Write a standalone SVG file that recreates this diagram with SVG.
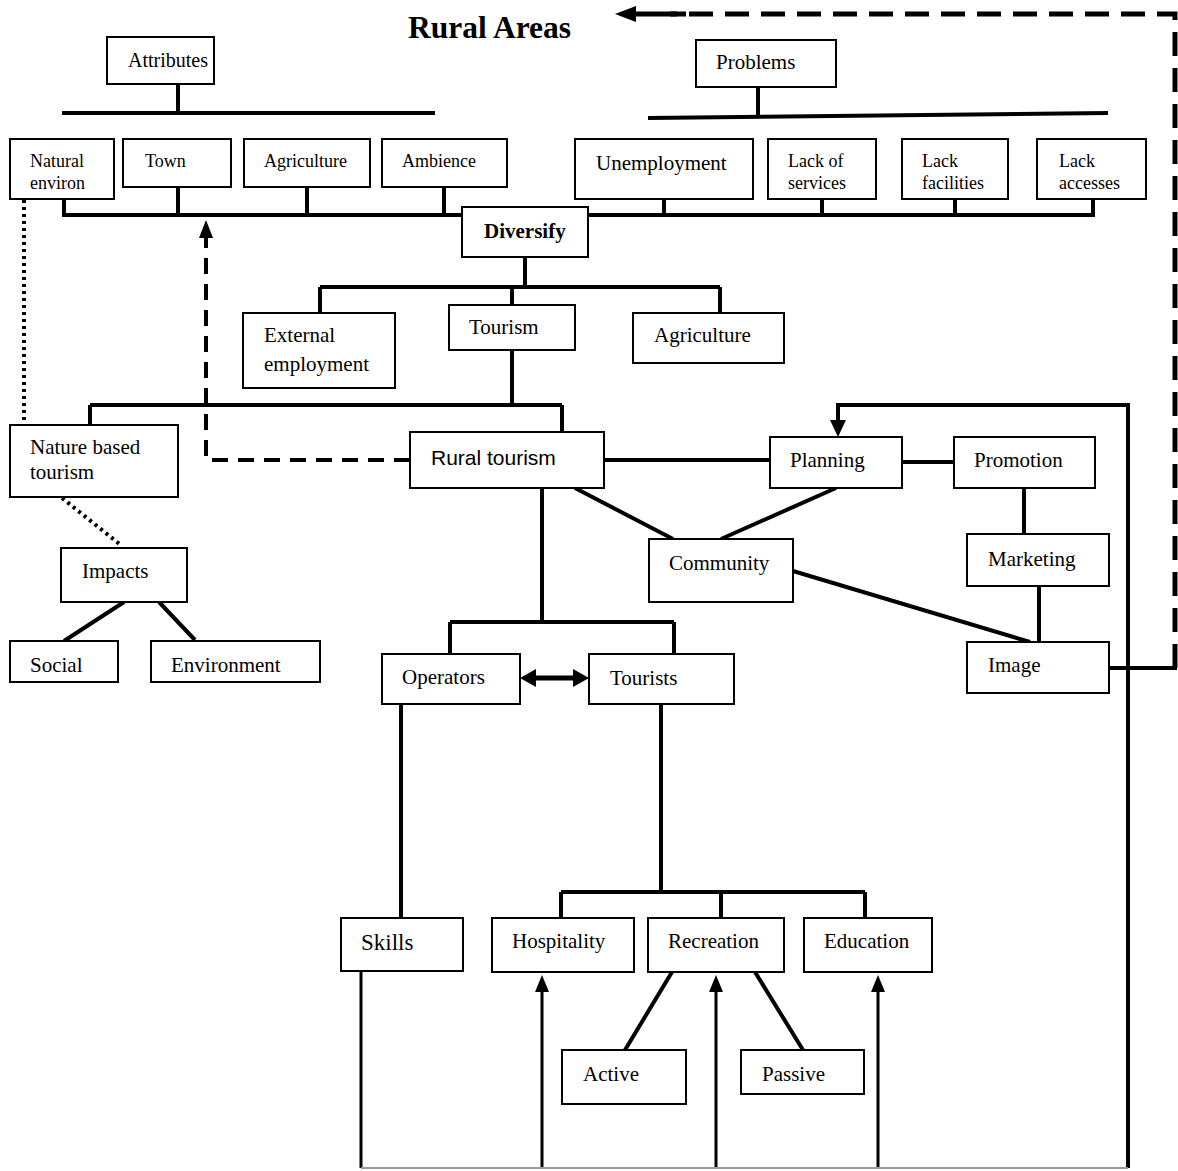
<svg xmlns="http://www.w3.org/2000/svg" width="1178" height="1171" viewBox="0 0 1178 1171">
<style>
.box{fill:#fff;stroke:#000;stroke-width:2}
.t{font-family:"Liberation Serif","Times New Roman",serif;font-size:21px;fill:#000}
.s{font-size:18px}
.b{font-weight:bold}
.sans{font-family:"Liberation Sans",Arial,sans-serif}
.ln{fill:none;stroke:#000;stroke-width:4}
.dash{fill:none;stroke:#000;stroke-width:4;stroke-dasharray:16 10}
.dash2{fill:none;stroke:#000;stroke-width:5;stroke-dasharray:24 12}
.dot{fill:none;stroke:#000;stroke-width:4;stroke-dasharray:3 4}
.thin{fill:none;stroke:#999;stroke-width:2}
.ah{fill:#000}
</style>
<rect width="1178" height="1171" fill="#fff"/>
<g id="connectors">
  <path class="ln" d="M178 84V113M62 113H435"/>
  <path class="ln" d="M758 87V116M648 118L1108 113"/>
  <path class="ln" d="M62 215H1095M64 199V215M178 187V215M307 187V215M444 187V215M664 199V215M822 199V215M955 199V215M1093 199V215"/>
  <path class="ln" d="M525 257V287M320 287H720M320 287V313M512 287V305M720 287V313"/>
  <path class="ln" d="M512 350V405M90 405H562M90 405V425M562 405V432"/>
  <path class="ln" d="M604 460H770M902 462H953M1024 488V535M1039 586V642"/>
  <path class="ln" d="M575 488L673 539M836 488L721 539M793 571L1030 642"/>
  <path class="ln" d="M1128 1168V405H838V422"/>
  <polygon class="ah" points="830,420 846,420 838,437"/>
  <path class="ln" d="M1109 668H1177"/>
  <path class="dash2" d="M1175 668V14H670"/>
  <path class="ln" d="M686 14H632" style="stroke-width:5"/>
  <polygon class="ah" points="636,6 636,22 615,14"/>
  <path class="dash" d="M410 460H206V238"/>
  <polygon class="ah" points="199,238 213,238 206,220"/>
  <path class="dot" d="M24 200V420"/>
  <path class="dot" d="M62 498L122 546"/>
  <path class="ln" d="M124 602L64 641M159 602L195 640"/>
  <path class="ln" d="M542 488V622M450 622H674M450 622V654M674 622V654"/>
  <path class="ln" d="M534 678H576" style="stroke-width:5"/>
  <polygon class="ah" points="520,678 536,669 536,687"/>
  <polygon class="ah" points="589,678 573,669 573,687"/>
  <path class="ln" d="M401 704V918M661 704V892M561 892H865M561 892V918M721 892V918M865 892V918"/>
  <path class="ln" d="M672 972L625 1050M755 972L803 1050"/>
  <path class="ln" d="M361 972V1168" style="stroke-width:3"/>
  <path class="ln" d="M542 1168V990M716 1168V990M878 1168V990" style="stroke-width:3"/>
  <polygon class="ah" points="535,992 549,992 542,975"/>
  <polygon class="ah" points="709,992 723,992 716,975"/>
  <polygon class="ah" points="871,992 885,992 878,975"/>
  <path class="thin" d="M361 1168H1128"/>
</g>
<text class="t b" x="408" y="38" style="font-size:31.5px">Rural Areas</text>
<g id="attributes"><rect class="box" x="107" y="37" width="107" height="47"/><text class="t" x="128" y="67" style="font-size:20px">Attributes</text></g>
<g id="problems"><rect class="box" x="696" y="40" width="140" height="47"/><text class="t" x="716" y="69">Problems</text></g>
<g id="natural"><rect class="box" x="10" y="139" width="104" height="60"/><text class="t s" x="30" y="167">Natural</text><text class="t s" x="30" y="189">environ</text></g>
<g id="town"><rect class="box" x="123" y="139" width="108" height="48"/><text class="t s" x="145" y="167">Town</text></g>
<g id="agriculture1"><rect class="box" x="244" y="139" width="126" height="48"/><text class="t s" x="264" y="167">Agriculture</text></g>
<g id="ambience"><rect class="box" x="382" y="139" width="125" height="48"/><text class="t s" x="402" y="167">Ambience</text></g>
<g id="unemployment"><rect class="box" x="575" y="139" width="178" height="60"/><text class="t" x="596" y="170">Unemployment</text></g>
<g id="lackservices"><rect class="box" x="768" y="139" width="108" height="60"/><text class="t s" x="788" y="167">Lack of</text><text class="t s" x="788" y="189">services</text></g>
<g id="lackfacilities"><rect class="box" x="902" y="139" width="106" height="60"/><text class="t s" x="922" y="167">Lack</text><text class="t s" x="922" y="189">facilities</text></g>
<g id="lackaccesses"><rect class="box" x="1037" y="139" width="109" height="60"/><text class="t s" x="1059" y="167">Lack</text><text class="t s" x="1059" y="189">accesses</text></g>
<g id="diversify"><rect class="box" x="462" y="207" width="126" height="50"/><text class="t b" x="484" y="238">Diversify</text></g>
<g id="external"><rect class="box" x="243" y="313" width="152" height="75"/><text class="t" x="264" y="342">External</text><text class="t" x="264" y="371">employment</text></g>
<g id="tourism"><rect class="box" x="449" y="305" width="126" height="45"/><text class="t" x="469" y="334">Tourism</text></g>
<g id="agriculture2"><rect class="box" x="633" y="313" width="151" height="50"/><text class="t" x="654" y="342">Agriculture</text></g>
<g id="nature"><rect class="box" x="10" y="425" width="168" height="72"/><text class="t" x="30" y="454">Nature based</text><text class="t" x="30" y="479">tourism</text></g>
<g id="rural"><rect class="box" x="410" y="432" width="194" height="56"/><text class="t sans" x="431" y="465">Rural tourism</text></g>
<g id="planning"><rect class="box" x="770" y="437" width="132" height="51"/><text class="t" x="790" y="467">Planning</text></g>
<g id="promotion"><rect class="box" x="954" y="437" width="141" height="51"/><text class="t" x="974" y="467">Promotion</text></g>
<g id="community"><rect class="box" x="649" y="539" width="144" height="63"/><text class="t" x="669" y="570">Community</text></g>
<g id="marketing"><rect class="box" x="967" y="534" width="142" height="52"/><text class="t" x="988" y="566">Marketing</text></g>
<g id="image"><rect class="box" x="967" y="642" width="142" height="51"/><text class="t" x="988" y="672">Image</text></g>
<g id="impacts"><rect class="box" x="61" y="548" width="126" height="54"/><text class="t" x="82" y="578">Impacts</text></g>
<g id="social"><rect class="box" x="10" y="641" width="108" height="41"/><text class="t" x="30" y="672">Social</text></g>
<g id="environment"><rect class="box" x="151" y="641" width="169" height="41"/><text class="t" x="171" y="672">Environment</text></g>
<g id="operators"><rect class="box" x="382" y="654" width="138" height="50"/><text class="t" x="402" y="684">Operators</text></g>
<g id="tourists"><rect class="box" x="589" y="654" width="145" height="50"/><text class="t" x="610" y="685">Tourists</text></g>
<g id="skills"><rect class="box" x="341" y="918" width="122" height="53"/><text class="t" x="361" y="950" style="font-size:23px">Skills</text></g>
<g id="hospitality"><rect class="box" x="492" y="918" width="142" height="54"/><text class="t" x="512" y="948">Hospitality</text></g>
<g id="recreation"><rect class="box" x="648" y="918" width="136" height="54"/><text class="t" x="668" y="948">Recreation</text></g>
<g id="education"><rect class="box" x="804" y="918" width="128" height="54"/><text class="t" x="824" y="948">Education</text></g>
<g id="active"><rect class="box" x="562" y="1050" width="124" height="54"/><text class="t" x="583" y="1081">Active</text></g>
<g id="passive"><rect class="box" x="741" y="1050" width="123" height="44"/><text class="t" x="762" y="1081">Passive</text></g>
</svg>
